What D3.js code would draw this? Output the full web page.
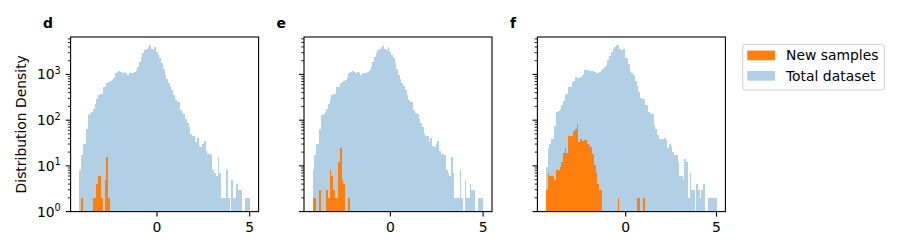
<!DOCTYPE html>
<html>
<head>
<meta charset="utf-8">
<script src="https://cdn.jsdelivr.net/npm/d3@7"></script>
<style>
  html, body { margin: 0; padding: 0; background: #fff; }
  svg { display: block; font-family: "DejaVu Sans", sans-serif; }
</style>
</head>
<body>
<svg id="chart" width="900" height="250"></svg>
<script>
// ---------------- DATA ----------------
const panelLabels = ["d", "e", "f"];
const seriesNames = ["New samples", "Total dataset"];
const binCount = 100;
// data extents (histogram range) per panel
const rangeD = [-4.2, 5.02];
const rangeE = [-4.2, 5.02];
const rangeF = [-4.39, 5.02];

// Total dataset counts (panels d and e share the same total dataset)
const totalDE = [
  8, 17, 30, 30, 64, 129, 135, 150, 174, 225,
  288, 354, 370, 370, 528, 528, 645, 680, 710, 760,
  830, 1070, 1120, 1175, 1120, 1070, 1120, 1070, 965, 1070,
  1070, 1070, 1150, 1240, 1445, 1860, 2390, 2920, 3390, 3650,
  3950, 4370, 3570, 3390, 3950, 3070, 2640, 2300, 1800, 1305,
  965, 790, 650, 555, 455, 354, 275, 248, 248, 166,
  143, 135, 106, 85, 71, 50, 45, 45, 33, 41,
  27, 26, 30, 35, 21, 18, 18, 17, 8, 7,
  6, 16, 7, 2, 2, 2, 8, 2, 0, 5,
  2, 2, 4, 3, 3, 0, 0, 2, 2, 2
];
const totalF = [
  9.5, 24.6, 30, 39, 39, 74, 150, 158, 180, 214,
  264, 370, 370, 528, 528, 680, 710, 875, 830, 850,
  875, 965, 1240, 1240, 1240, 1175, 1175, 1175, 1120, 1070,
  1070, 1120, 1240, 1300, 1445, 1600, 2050, 2500, 3070, 3570,
  3900, 4370, 4370, 3570, 3390, 3570, 2270, 2270, 1680, 1175,
  1100, 965, 710, 555, 410, 303, 288, 288, 214, 214,
  150, 135, 135, 78, 64, 47, 39, 39, 39, 41,
  37, 25, 30, 27, 20, 17, 17, 12, 6, 6,
  5, 14, 12, 2, 7, 3, 3, 0, 4, 3,
  2, 3, 4, 0, 0, 2, 2, 2, 2, 2
];
// New samples counts (same bins as the total dataset of each panel)
const newD = [
  0, 2, 0, 0, 0, 0, 0, 0, 2, 2,
  4, 6, 6, 2, 0, 5, 16, 2, 0, 0,
  0, 0, 0, 0, 0, 0, 0, 0, 0, 0,
  0, 0, 0, 0, 0, 0, 0, 0, 0, 0,
  0, 0, 0, 0, 0, 0, 0, 0, 0, 0,
  0, 0, 0, 0, 0, 0, 0, 0, 0, 0,
  0, 0, 0, 0, 0, 0, 0, 0, 0, 0,
  0, 0, 0, 0, 0, 0, 0, 0, 0, 0,
  0, 0, 0, 0, 0, 0, 0, 0, 0, 0,
  0, 0, 0, 0, 0, 0, 0, 0, 0, 0
];
const newE = [
  2, 2, 0, 0, 3, 0, 0, 0, 3, 2,
  8, 6, 3, 2, 2, 12, 25, 5, 4, 0,
  0, 2, 0, 0, 0, 0, 0, 0, 0, 0,
  0, 0, 0, 0, 0, 0, 0, 0, 0, 0,
  0, 0, 0, 0, 0, 0, 0, 0, 0, 0,
  0, 0, 0, 0, 0, 0, 0, 0, 0, 0,
  0, 0, 0, 0, 0, 0, 0, 0, 0, 0,
  0, 0, 0, 0, 0, 0, 0, 0, 0, 0,
  0, 0, 0, 0, 0, 0, 0, 0, 0, 0,
  0, 0, 0, 0, 0, 0, 0, 0, 0, 0
];
const newF = [
  3, 7, 6, 6, 6, 5, 8, 8, 9.5, 12,
  19, 25, 19, 45, 45, 45, 58, 64, 82, 33,
  39, 35, 37, 37, 30, 28, 26, 18, 10.5, 7,
  4, 3, 3, 0, 0, 0, 0, 0, 0, 0,
  0, 0, 2, 0, 0, 0, 0, 0, 0, 0,
  0, 0, 0, 2, 2, 0, 0, 2, 0, 0,
  0, 0, 0, 0, 0, 0, 0, 0, 0, 0,
  0, 0, 0, 0, 0, 0, 0, 0, 0, 0,
  0, 0, 0, 0, 0, 0, 0, 0, 0, 0,
  0, 0, 0, 0, 0, 0, 0, 0, 0, 0
];
const xTickValues = [0, 5];
const yTickValues = [1, 10, 100, 1000];
const yTickExponents = ["0", "1", "2", "3"];
const yLabel = "Distribution Density";

// ---------------- LAYOUT / STYLE ----------------
const colNew = "#ff7f0e";
const colTotal = "#b1cfe5";
const fontSize = 13.9;
const axTop = 37, axBottom = 211.6, axWidth = 188;
const panels = [
  { label: panelLabels[0], left: 70.6, range: rangeD, total: totalDE, fresh: newD, yLabels: true },
  { label: panelLabels[1], left: 304.0, range: rangeE, total: totalDE, fresh: newE, yLabels: false },
  { label: panelLabels[2], left: 537.4, range: rangeF, total: totalF, fresh: newF, yLabels: false }
];

const svg = d3.select("#chart");
const yDomainTop = 6600;

panels.forEach(p => {
  const [lo, hi] = p.range;
  const pad = (hi - lo) * 0.05;
  const x = d3.scaleLinear().domain([lo - pad, hi + pad]).range([p.left, p.left + axWidth]);
  const y = d3.scaleLog().domain([1, yDomainTop]).range([axBottom, axTop]);
  const edges = d3.range(binCount + 1).map(i => lo + (hi - lo) * i / binCount);

  const g = svg.append("g");

  function drawBars(counts, color) {
    const bins = counts.map((v, i) => ({ v, x0: edges[i], x1: edges[i + 1] })).filter(b => b.v > 1);
    g.append("g").selectAll("rect").data(bins).join("rect")
      .attr("x", b => x(b.x0))
      .attr("width", b => x(b.x1) - x(b.x0))
      .attr("y", b => y(b.v))
      .attr("height", b => y(1) - y(b.v))
      .attr("fill", color)
      .attr("shape-rendering", "crispEdges");
  }
  drawBars(p.total, colTotal);
  drawBars(p.fresh, colNew);

  // x axis ticks
  const xa = g.append("g");
  xTickValues.forEach(t => {
    const px = x(t);
    xa.append("line").attr("x1", px).attr("x2", px).attr("y1", axBottom).attr("y2", axBottom + 4.9)
      .attr("stroke", "#000").attr("stroke-width", 1.1);
    xa.append("text").attr("x", px).attr("y", axBottom + 20).attr("text-anchor", "middle")
      .attr("font-size", fontSize).attr("fill", "#000").text(String(t));
  });

  // y axis ticks (major + minor)
  const ya = g.append("g");
  for (let k = 0; k <= 3; k++) {
    for (let m = 1; m <= 9; m++) {
      const v = m * Math.pow(10, k);
      if (v > yDomainTop) continue;
      const py = y(v);
      const len = m === 1 ? 4.9 : 2.8;
      ya.append("line").attr("x1", p.left - len).attr("x2", p.left).attr("y1", py).attr("y2", py)
        .attr("stroke", "#000").attr("stroke-width", m === 1 ? 1.1 : 0.85);
    }
  }
  if (p.yLabels) {
    yTickValues.forEach((v, i) => {
      const t = ya.append("text").attr("x", p.left - 9.8).attr("y", y(v) + 5)
        .attr("text-anchor", "end").attr("font-size", fontSize).attr("fill", "#000");
      t.append("tspan").text("10");
      t.append("tspan").attr("dy", -5.5).attr("font-size", 9.8).text(yTickExponents[i]);
    });
    svg.append("text")
      .attr("transform", `translate(26,${(axTop + axBottom) / 2}) rotate(-90)`)
      .attr("text-anchor", "middle").attr("font-size", fontSize).attr("fill", "#000")
      .text(yLabel);
  }

  // frame
  g.append("rect").attr("x", p.left).attr("y", axTop).attr("width", axWidth).attr("height", axBottom - axTop)
    .attr("fill", "none").attr("stroke", "#000").attr("stroke-width", 1.1);

  // panel label
  svg.append("text").attr("x", p.left - 27.5).attr("y", 28.3)
    .attr("font-size", fontSize).attr("font-weight", "bold").attr("fill", "#000").text(p.label);
});

// legend
const lg = svg.append("g");
lg.append("rect").attr("x", 742.7).attr("y", 44.3).attr("width", 141.6).attr("height", 45.7)
  .attr("rx", 2.8).attr("fill", "#fff").attr("fill-opacity", 0.8)
  .attr("stroke", "#cccccc").attr("stroke-width", 1);
const legendItems = [
  { name: seriesNames[0], color: colNew },
  { name: seriesNames[1], color: colTotal }
];
legendItems.forEach((it, i) => {
  const cy = 55.4 + i * 20.4;
  lg.append("rect").attr("x", 747.3).attr("y", cy - 4.85).attr("width", 27.8).attr("height", 9.7)
    .attr("fill", it.color);
  lg.append("text").attr("x", 786).attr("y", cy + 5).attr("font-size", fontSize).attr("fill", "#000")
    .text(it.name);
});
</script>
</body>
</html>
